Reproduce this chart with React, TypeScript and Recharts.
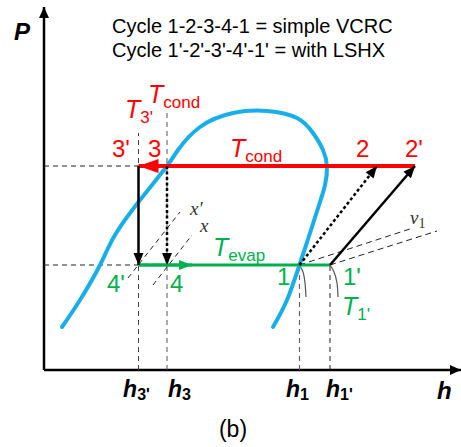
import React from 'react';
import { ComposedChart, Line, Scatter, XAxis, YAxis } from 'recharts';

// schematic P-h diagram, enthalpy and pressure in arbitrary units
const H_MAX = 417;
const P_MAX = 363;

const P_COND = 204;
const P_EVAP = 105;
const H3P = 94.5;
const H3 = 123;
const H1 = 255.5;
const H1P = 286;
const H2 = 333;
const H2P = 371;
const H_EVAP_ARROW = 148;

// saturation dome, liquid side up and over to the vapour side
const domeH = [18, 36, 56, 71, 96, 123, 134, 156, 189, 223, 253, 269, 279, 283, 281, 276, 266, 255.5, 243, 229];
const domeP = [43, 70, 105, 135, 170, 204, 220, 243, 257, 259, 252, 237, 220, 203, 185, 168, 137, 105, 70, 43];

// quality lines x' and x
const xPrimeH = [84, 136];
const xPrimeP = [92, 158];
const xH = [109, 148];
const xP = [85, 135];

// constant specific volume lines through 1 and 1'
const v1aH = [H1, 369];
const v1aP = [P_EVAP, 142];
const v1bH = [H1P, 393];
const v1bP = [P_EVAP, 139];

// isotherms leaving 1 and 1'
const t1H = [H1, 259, 261, 262];
const t1P = [P_EVAP, 98, 87, 73];
const t1pH = [H1P, 290, 293, 294];
const t1pP = [P_EVAP, 98, 87, 73];

const xTicks = [H3P, H3, H1, H1P];
const xTickSubs = ["3'", '3', '1', "1'"];

const labels = [
  { h: 81, p: 252, main: 'T', sub: "3'", tone: 'red' },
  { h: 104, p: 267, main: 'T', sub: 'cond', tone: 'red' },
  { h: 68, p: 213, main: "3'", tone: 'red' },
  { h: 104, p: 213, main: '3', tone: 'red' },
  { h: 186, p: 213, main: 'T', sub: 'cond', tone: 'red' },
  { h: 312, p: 213, main: '2', tone: 'red' },
  { h: 361, p: 213, main: "2'", tone: 'red' },
  { h: 169, p: 114, main: 'T', sub: 'evap', tone: 'green' },
  { h: 63, p: 78, main: "4'", tone: 'green' },
  { h: 126, p: 78, main: '4', tone: 'green' },
  { h: 233, p: 85, main: '1', tone: 'green' },
  { h: 299, p: 85, main: "1'", tone: 'green' },
  { h: 298, p: 55, main: 'T', sub: "1'", tone: 'green' },
  { h: 146, p: 155, main: 'x′', tone: 'serif' },
  { h: 156, p: 138, main: 'x', tone: 'serif' },
  { h: 366, p: 146, main: 'v', sub: '1', tone: 'serif' },
];

const pts = (hs: number[], ps: number[]) => hs.map((h, i) => ({ h, p: ps[i] }));
const seg = (h0: number, p0: number, h1: number, p1: number) => [
  { h: h0, p: p0 },
  { h: h1, p: p1 },
];

const RED = '#ff0000';
const GREEN = '#00b050';
const BLUE = '#1aaee8';
const SANS = "Arial, 'Liberation Sans', sans-serif";
const SERIF = "'Times New Roman', 'Liberation Serif', serif";

const Arrow = ({ id, color, len, half }: { id: string; color: string; len: number; half: number }) => (
  <marker
    id={id}
    markerUnits="userSpaceOnUse"
    markerWidth={len}
    markerHeight={half * 2}
    refX={len}
    refY={half}
    orient="auto"
    overflow="visible"
  >
    <path d={`M0,0 L${len},${half} L0,${half * 2} Z`} fill={color} />
  </marker>
);

const LabelShape = (props: any) => {
  const { cx, cy, payload } = props;
  if (payload.tone === 'serif') {
    return (
      <text x={cx} y={cy} fill="#333" fontFamily={SERIF} fontStyle="italic" fontSize={19}>
        {payload.main}
        {payload.sub && (
          <tspan fontStyle="normal" fontSize={14} dy={4}>
            {payload.sub}
          </tspan>
        )}
      </text>
    );
  }
  const color = payload.tone === 'red' ? RED : GREEN;
  const isT = payload.main === 'T';
  return (
    <text x={cx} y={cy} fill={color} fontFamily={SANS} fontSize={isT ? 25 : 24} fontStyle={isT ? 'italic' : 'normal'}>
      {payload.main}
      {payload.sub && (
        <tspan fontStyle="normal" fontSize={17} dy={5}>
          {payload.sub}
        </tspan>
      )}
    </text>
  );
};

const HTick = (props: any) => {
  const { x, y, index } = props;
  const anchor = index % 2 === 0 ? 'middle' : 'start';
  const dx = index === 3 ? -4 : index === 1 ? 1 : -2;
  return (
    <text x={x + dx} y={y + 19} textAnchor={anchor} fontFamily={SANS} fontWeight="bold" fill="#000">
      <tspan fontStyle="italic" fontSize={23}>h</tspan>
      <tspan fontSize={16} dy={3}>{xTickSubs[index]}</tspan>
    </text>
  );
};

const line = (key: string, data: any[], stroke: string, width: number, extra: any = {}) => (
  <Line
    key={key}
    data={data}
    dataKey="p"
    type="linear"
    stroke={stroke}
    strokeWidth={width}
    dot={false}
    activeDot={false}
    legendType="none"
    isAnimationActive={false}
    {...extra}
  />
);

export default function App() {
  return (
    <div style={{ position: 'absolute', left: 0, top: 0 }}>
      <ComposedChart width={461} height={447} margin={{ top: 7, right: 0, bottom: 37, left: 44 }}>
        <defs>
          <Arrow id="arr-red" color={RED} len={20} half={7} />
          <Arrow id="arr-black" color="#000" len={12} half={5} />
          <Arrow id="arr-green" color={GREEN} len={13} half={5} />
          <Arrow id="arr-axis" color="#000" len={11} half={5} />
        </defs>
        <XAxis
          type="number"
          dataKey="h"
          domain={[0, H_MAX]}
          ticks={xTicks}
          tick={<HTick />}
          axisLine={false}
          tickLine={false}
          height={40}
          interval={0}
        />
        <YAxis type="number" dataKey="p" domain={[0, P_MAX]} hide />

        {line('yaxis', seg(0, 0, 0, P_MAX), '#000', 2.5, { markerEnd: 'url(#arr-axis)' })}
        {line('xaxis', seg(0, 0, H_MAX, 0), '#000', 2.5, { markerEnd: 'url(#arr-axis)' })}

        {line('h3p', seg(H3P, 0, H3P, 237), '#444', 1, { strokeDasharray: '5 4' })}
        {line('h3', seg(H3, 0, H3, 257), '#555', 1, { strokeDasharray: '5 4' })}
        {line('h1', seg(H1, 0, H1, P_EVAP), '#666', 1.2, { strokeDasharray: '5 4' })}
        {line('h1p', seg(H1P, 0, H1P, P_EVAP), '#222', 1, { strokeDasharray: '5 4' })}
        {line('pcond', seg(0, P_COND, H3P, P_COND), '#222', 1, { strokeDasharray: '5 4' })}
        {line('pevap', seg(0, P_EVAP, H3P, P_EVAP), '#222', 1, { strokeDasharray: '5 4' })}

        {line('xprime', pts(xPrimeH, xPrimeP), '#222', 1, { strokeDasharray: '5 4' })}
        {line('xq', pts(xH, xP), '#222', 1, { strokeDasharray: '5 4' })}
        {line('v1a', pts(v1aH, v1aP), '#222', 1, { strokeDasharray: '6 4' })}
        {line('v1b', pts(v1bH, v1bP), '#222', 1, { strokeDasharray: '6 4' })}
        {line('t1', pts(t1H, t1P), '#555', 1.2, { type: 'natural' })}
        {line('t1p', pts(t1pH, t1pP), '#555', 1.2, { type: 'natural' })}

        {line('dome', pts(domeH, domeP), BLUE, 4, { type: 'natural', strokeLinecap: 'round' })}

        {line('cond', seg(H2P, P_COND, H3P, P_COND), RED, 4, { markerEnd: 'url(#arr-red)' })}
        {line('evap', seg(H3P, P_EVAP, H1P, P_EVAP), GREEN, 3)}
        {line('evapArrow', seg(H3P, P_EVAP, H_EVAP_ARROW, P_EVAP), GREEN, 3, { markerEnd: 'url(#arr-green)' })}
        {line('exp', seg(H3P, P_COND, H3P, P_EVAP), '#000', 2.5, { markerEnd: 'url(#arr-black)' })}
        {line('expSimple', seg(H3, P_COND, H3, P_EVAP), '#000', 2.5, {
          strokeDasharray: '3 2.5',
          markerEnd: 'url(#arr-black)',
        })}
        {line('comp', seg(H1P, P_EVAP, H2P, P_COND), '#000', 2.5, { markerEnd: 'url(#arr-black)' })}
        {line('compSimple', seg(H1, P_EVAP, H2, P_COND), '#000', 2.5, {
          strokeDasharray: '3 2.5',
          markerEnd: 'url(#arr-black)',
        })}

        <Scatter data={labels} dataKey="p" shape={LabelShape} legendType="none" isAnimationActive={false} />

        <text x={112} y={33} fontFamily={SANS} fontSize={20} fill="#000">
          Cycle 1-2-3-4-1 = simple VCRC
        </text>
        <text x={112} y={57} fontFamily={SANS} fontSize={20} fill="#000">
          Cycle 1'-2'-3'-4'-1' = with LSHX
        </text>
        <text x={14} y={40} fontFamily={SANS} fontSize={24} fontWeight="bold" fontStyle="italic" fill="#000">
          P
        </text>
        <text x={437} y={399} fontFamily={SANS} fontSize={24} fontWeight="bold" fontStyle="italic" fill="#000">
          h
        </text>
        <text x={233} y={437} textAnchor="middle" fontFamily={SANS} fontSize={23} fill="#000">
          (b)
        </text>
      </ComposedChart>
    </div>
  );
}
